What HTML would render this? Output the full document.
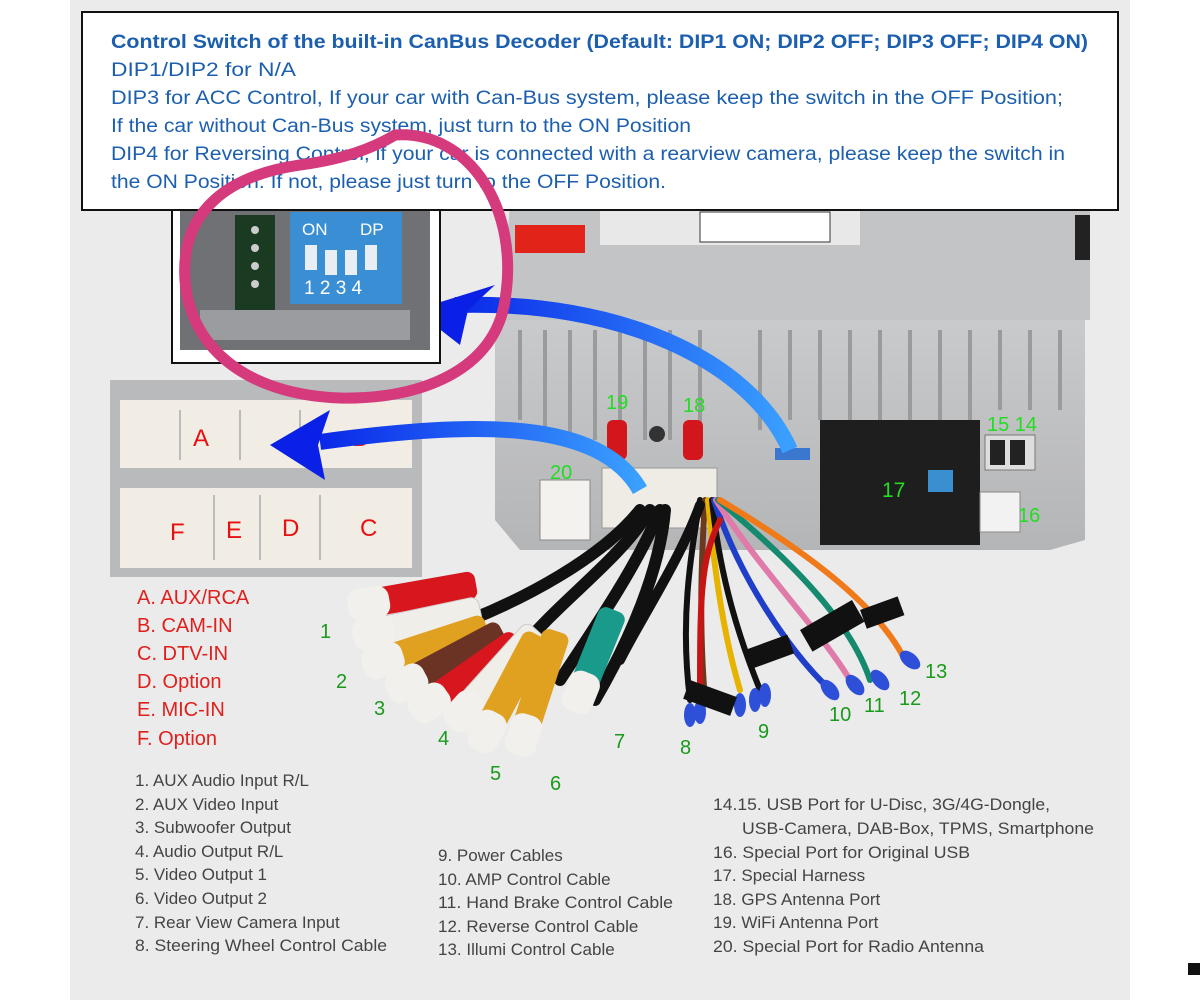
<!DOCTYPE html>
<html><head><meta charset="utf-8"><style>
html,body{margin:0;padding:0;background:#fff;}
svg{display:block;}
text{font-family:"Liberation Sans",sans-serif;}
</style></head><body>
<svg width="1200" height="1000" viewBox="0 0 1200 1000" xmlns="http://www.w3.org/2000/svg">
<defs>
<linearGradient id="metal" x1="0" y1="0" x2="0" y2="1"><stop offset="0" stop-color="#c9cacc"/><stop offset="1" stop-color="#b4b5b7"/></linearGradient>
<linearGradient id="blueArr" x1="0" y1="0" x2="1" y2="0"><stop offset="0" stop-color="#0a28e8"/><stop offset="1" stop-color="#3aa0ff"/></linearGradient>
<g id="plug"><rect x="0" y="-16" width="42" height="32" rx="12" fill="#f2f0ec"/></g>
</defs>
<rect x="0" y="0" width="1200" height="1000" fill="#fff"/>
<rect x="70" y="0" width="1060" height="1000" fill="#ebebec"/>
<rect x="1188" y="963" width="12" height="12" fill="#111"/>

<!-- device top -->
<path d="M510 205 L1090 205 L1090 320 L500 320 Z" fill="#c3c4c6"/>
<rect x="600" y="210" width="260" height="35" fill="#e8e8e8"/>
<rect x="700" y="212" width="130" height="30" fill="#fff" stroke="#333"/>
<rect x="515" y="225" width="70" height="28" fill="#e2231a"/>
<rect x="1075" y="215" width="15" height="45" fill="#222"/>
<!-- device back -->
<path d="M495 320 L1085 320 L1085 540 L1050 550 L520 550 L495 520 Z" fill="url(#metal)"/>
<g stroke="#9a9b9d" stroke-width="4">
<line x1="520" y1="330" x2="520" y2="420"/><line x1="545" y1="330" x2="545" y2="440"/><line x1="570" y1="330" x2="570" y2="440"/><line x1="595" y1="330" x2="595" y2="440"/><line x1="620" y1="330" x2="620" y2="440"/><line x1="645" y1="330" x2="645" y2="440"/><line x1="670" y1="330" x2="670" y2="440"/><line x1="700" y1="330" x2="700" y2="440"/><line x1="760" y1="330" x2="760" y2="430"/><line x1="790" y1="330" x2="790" y2="420"/><line x1="820" y1="330" x2="820" y2="420"/><line x1="850" y1="330" x2="850" y2="420"/><line x1="880" y1="330" x2="880" y2="420"/><line x1="910" y1="330" x2="910" y2="420"/><line x1="940" y1="330" x2="940" y2="420"/><line x1="970" y1="330" x2="970" y2="420"/><line x1="1000" y1="330" x2="1000" y2="410"/><line x1="1030" y1="330" x2="1030" y2="410"/><line x1="1060" y1="330" x2="1060" y2="410"/>
</g>
<rect x="820" y="420" width="160" height="125" fill="#1e1e1e"/>
<rect x="928" y="470" width="25" height="22" fill="#3a8fd0"/>
<text x="882" y="497" font-size="21" fill="#22dd22">17</text>
<rect x="985" y="435" width="50" height="35" fill="#ddd" stroke="#777"/>
<rect x="990" y="440" width="15" height="25" fill="#222"/><rect x="1010" y="440" width="15" height="25" fill="#222"/>
<text x="987" y="431" font-size="20" fill="#22dd22">15 14</text>
<rect x="980" y="492" width="40" height="40" fill="#f2f2f2" stroke="#888"/>
<text x="1018" y="522" font-size="20" fill="#22dd22">16</text>
<rect x="540" y="480" width="50" height="60" fill="#f4f2ee" stroke="#888"/>
<text x="550" y="479" font-size="20" fill="#22dd22">20</text>
<rect x="602" y="468" width="115" height="60" fill="#efece6" stroke="#999"/>
<rect x="607" y="420" width="20" height="40" rx="6" fill="#d2161c"/><rect x="683" y="420" width="20" height="40" rx="6" fill="#d2161c"/>
<circle cx="657" cy="434" r="8" fill="#333"/>
<text x="606" y="409" font-size="20" fill="#22dd22">19</text>
<text x="683" y="412" font-size="20" fill="#22dd22">18</text>
<rect x="775" y="448" width="35" height="12" fill="#3a78d0"/>

<!-- connector inset -->
<rect x="110" y="380" width="312" height="197" fill="#b9babc"/>
<rect x="120" y="400" width="292" height="68" fill="#f1ede4"/>
<rect x="120" y="488" width="292" height="80" fill="#f1ede4"/>
<g stroke="#bbb" stroke-width="2"><line x1="180" y1="410" x2="180" y2="460"/><line x1="240" y1="410" x2="240" y2="460"/><line x1="300" y1="410" x2="300" y2="460"/><line x1="214" y1="495" x2="214" y2="560"/><line x1="260" y1="495" x2="260" y2="560"/><line x1="320" y1="495" x2="320" y2="560"/></g>
<g fill="#e81010" font-size="24"><text x="193" y="446">A</text><text x="352" y="446">B</text><text x="170" y="540">F</text><text x="226" y="538">E</text><text x="282" y="536">D</text><text x="360" y="536">C</text></g>

<!-- blue arrows -->
<path d="M640 490 C600 420 480 420 320 442" stroke="url(#blueArr)" stroke-width="16" fill="none"/>
<path d="M270 445 L330 410 L318 445 L325 480 Z" fill="#0a20e6"/>
<path d="M790 450 C750 360 620 300 455 305" stroke="url(#blueArr)" stroke-width="16" fill="none"/>
<path d="M415 310 L495 285 L468 310 L460 345 Z" fill="#0a20e6"/>

<!-- DIP inset -->
<rect x="172" y="208" width="268" height="155" fill="#fff" stroke="#111" stroke-width="2"/>
<rect x="180" y="210" width="250" height="140" fill="#6f7174"/>
<rect x="235" y="215" width="40" height="100" fill="#1a3a22"/>
<g fill="#ccc"><circle cx="255" cy="230" r="4"/><circle cx="255" cy="248" r="4"/><circle cx="255" cy="266" r="4"/><circle cx="255" cy="284" r="4"/></g>
<rect x="290" y="212" width="112" height="92" fill="#3a8fd4"/>
<g fill="#e8eef4"><rect x="305" y="245" width="12" height="25"/><rect x="325" y="250" width="12" height="25"/><rect x="345" y="250" width="12" height="25"/><rect x="365" y="245" width="12" height="25"/></g>
<text x="302" y="235" font-size="17" fill="#fff">ON</text><text x="360" y="235" font-size="17" fill="#fff">DP</text>
<text x="304" y="294" font-size="19" fill="#fff">1 2 3 4</text>
<rect x="200" y="310" width="210" height="30" fill="#9a9c9f"/>

<!-- top text box -->
<rect x="82" y="12" width="1036" height="198" fill="#fff" stroke="#111" stroke-width="2"/>
<g fill="#1c5fae" font-size="19" lengthAdjust="spacingAndGlyphs">
<text x="111" y="48" font-weight="bold" textLength="977" lengthAdjust="spacingAndGlyphs">Control Switch of the built-in CanBus Decoder (Default: DIP1 ON; DIP2 OFF; DIP3 OFF; DIP4 ON)</text>
<text x="111" y="76" textLength="185" lengthAdjust="spacingAndGlyphs">DIP1/DIP2 for N/A</text>
<text x="111" y="104" textLength="952" lengthAdjust="spacingAndGlyphs">DIP3 for ACC Control, If your car with Can-Bus system, please keep the switch in the OFF Position;</text>
<text x="111" y="132" textLength="580" lengthAdjust="spacingAndGlyphs">If the car without Can-Bus system, just turn to the ON Position</text>
<text x="111" y="160" textLength="954" lengthAdjust="spacingAndGlyphs">DIP4 for Reversing Control, if your car is connected with a rearview camera, please keep the switch in</text>
<text x="111" y="188" textLength="555" lengthAdjust="spacingAndGlyphs">the ON Position. If not, please just turn to the OFF Position.</text>
</g>
<!-- pink circle -->
<path d="M395 135 C470 130 520 210 505 300 C495 370 420 400 340 398 C250 395 190 350 185 280 C180 210 230 175 300 165 C340 160 370 150 395 135" stroke="#d43a7c" stroke-width="11" fill="none" stroke-linecap="round"/>

<!-- cables -->
<g fill="none" stroke-width="6" stroke-linecap="round">
<path d="M700 500 C690 560 680 620 690 700" stroke="#111"/>
<path d="M705 500 C700 580 700 640 705 700" stroke="#6b3a1e"/>
<path d="M708 500 C715 580 725 640 740 690" stroke="#e6b400"/>
<path d="M712 500 C720 580 740 640 760 690" stroke="#111"/>
<path d="M714 500 C740 580 790 650 825 685" stroke="#1f3fc8"/>
<path d="M716 500 C760 570 820 630 850 680" stroke="#e07aa8"/>
<path d="M718 500 C790 560 850 620 870 680" stroke="#158a6e"/>
<path d="M720 500 C820 560 880 610 905 660" stroke="#f07a1a"/>
<path d="M720 520 C700 560 700 600 700 700" stroke="#c81414"/>
<path d="M640 510 C600 560 520 600 470 620" stroke="#111" stroke-width="12"/>
<path d="M650 510 C620 560 560 600 520 650" stroke="#111" stroke-width="12"/>
<path d="M660 510 C640 560 600 620 560 680" stroke="#111" stroke-width="12"/>
<path d="M665 510 C660 570 630 640 595 700" stroke="#111" stroke-width="12"/>
<path d="M700 505 C680 560 640 620 620 660" stroke="#111" stroke-width="10"/>
</g>
<g fill="#2e4fd8">
<ellipse cx="690" cy="715" rx="6" ry="12"/><ellipse cx="700" cy="712" rx="6" ry="12"/><ellipse cx="740" cy="705" rx="6" ry="12"/><ellipse cx="755" cy="700" rx="6" ry="12"/><ellipse cx="765" cy="695" rx="6" ry="12"/><ellipse cx="830" cy="690" rx="7" ry="12" transform="rotate(-40 830 690)"/><ellipse cx="855" cy="685" rx="7" ry="12" transform="rotate(-40 855 685)"/><ellipse cx="880" cy="680" rx="7" ry="12" transform="rotate(-40 880 680)"/><ellipse cx="910" cy="660" rx="7" ry="12" transform="rotate(-50 910 660)"/>
</g>
<g fill="#111"><rect x="800" y="630" width="60" height="25" transform="rotate(-30 800 630)"/><rect x="860" y="610" width="40" height="20" transform="rotate(-20 860 610)"/><rect x="690" y="680" width="50" height="20" transform="rotate(20 690 680)"/><rect x="745" y="650" width="45" height="20" transform="rotate(-20 745 650)"/></g>

<!-- RCA plugs -->
<g transform="translate(348 607) rotate(-10)"><rect x="30" y="-14" width="100" height="28" rx="8" fill="#d8161e"/><use href="#plug"/></g>
<g transform="translate(353 637) rotate(-12)"><rect x="30" y="-14" width="100" height="28" rx="8" fill="#f0eee8" stroke="#ccc"/><use href="#plug"/></g>
<g transform="translate(363 667) rotate(-18)"><rect x="30" y="-14" width="100" height="28" rx="8" fill="#e0a020"/><use href="#plug"/></g>
<g transform="translate(388 693) rotate(-28)"><rect x="30" y="-14" width="100" height="28" rx="8" fill="#6b3324"/><use href="#plug"/></g>
<g transform="translate(412 715) rotate(-35)"><rect x="30" y="-14" width="100" height="28" rx="8" fill="#d8161e"/><use href="#plug"/></g>
<g transform="translate(450 727) rotate(-48)"><rect x="30" y="-14" width="100" height="28" rx="8" fill="#f0eee8" stroke="#ccc"/><use href="#plug"/></g>
<g transform="translate(477 750) rotate(-62)"><rect x="30" y="-14" width="100" height="28" rx="8" fill="#e0a020"/><use href="#plug"/></g>
<g transform="translate(517 755) rotate(-72)"><rect x="30" y="-14" width="100" height="28" rx="8" fill="#e0a020"/><use href="#plug"/></g>
<g transform="translate(573 712) rotate(-68)"><rect x="30" y="-14" width="80" height="28" rx="8" fill="#1a9a8a"/><use href="#plug"/></g>

<!-- green numbers -->
<g fill="#1a9a1a" font-size="20">
<text x="320" y="638">1</text><text x="336" y="688">2</text><text x="374" y="715">3</text><text x="438" y="745">4</text><text x="490" y="780">5</text><text x="550" y="790">6</text><text x="614" y="748">7</text><text x="680" y="754">8</text><text x="758" y="738">9</text><text x="829" y="721">10</text><text x="864" y="712">11</text><text x="899" y="705">12</text><text x="925" y="678">13</text>
</g>

<!-- red list -->
<g fill="#e0201c" font-size="20">
<text x="137" y="604">A. AUX/RCA</text><text x="137" y="632">B. CAM-IN</text><text x="137" y="660">C. DTV-IN</text><text x="137" y="688">D. Option</text><text x="137" y="716">E. MIC-IN</text><text x="137" y="745">F. Option</text>
</g>
<g fill="#444" font-size="17">
<text x="135" y="786">1. AUX Audio Input R/L</text><text x="135" y="810">2. AUX Video Input</text><text x="135" y="833">3. Subwoofer Output</text><text x="135" y="857">4. Audio Output R/L</text><text x="135" y="880">5. Video Output 1</text><text x="135" y="904">6. Video Output 2</text><text x="135" y="928">7. Rear View Camera Input</text><text x="135" y="951" textLength="252" lengthAdjust="spacingAndGlyphs">8. Steering Wheel Control Cable</text>
<text x="438" y="861">9. Power Cables</text><text x="438" y="885">10. AMP Control Cable</text><text x="438" y="908" textLength="235" lengthAdjust="spacingAndGlyphs">11. Hand Brake Control Cable</text><text x="438" y="932">12. Reverse Control Cable</text><text x="438" y="955">13. Illumi Control Cable</text>
<text x="713" y="810" textLength="337" lengthAdjust="spacingAndGlyphs">14.15. USB Port for U-Disc, 3G/4G-Dongle,</text><text x="742" y="834" textLength="352" lengthAdjust="spacingAndGlyphs">USB-Camera, DAB-Box, TPMS, Smartphone</text><text x="713" y="858" textLength="257" lengthAdjust="spacingAndGlyphs">16. Special Port for Original USB</text><text x="713" y="881">17. Special Harness</text><text x="713" y="905">18. GPS Antenna Port</text><text x="713" y="928">19. WiFi Antenna Port</text><text x="713" y="952" textLength="271" lengthAdjust="spacingAndGlyphs">20. Special Port for Radio Antenna</text>
</g>
</svg>
</body></html>
